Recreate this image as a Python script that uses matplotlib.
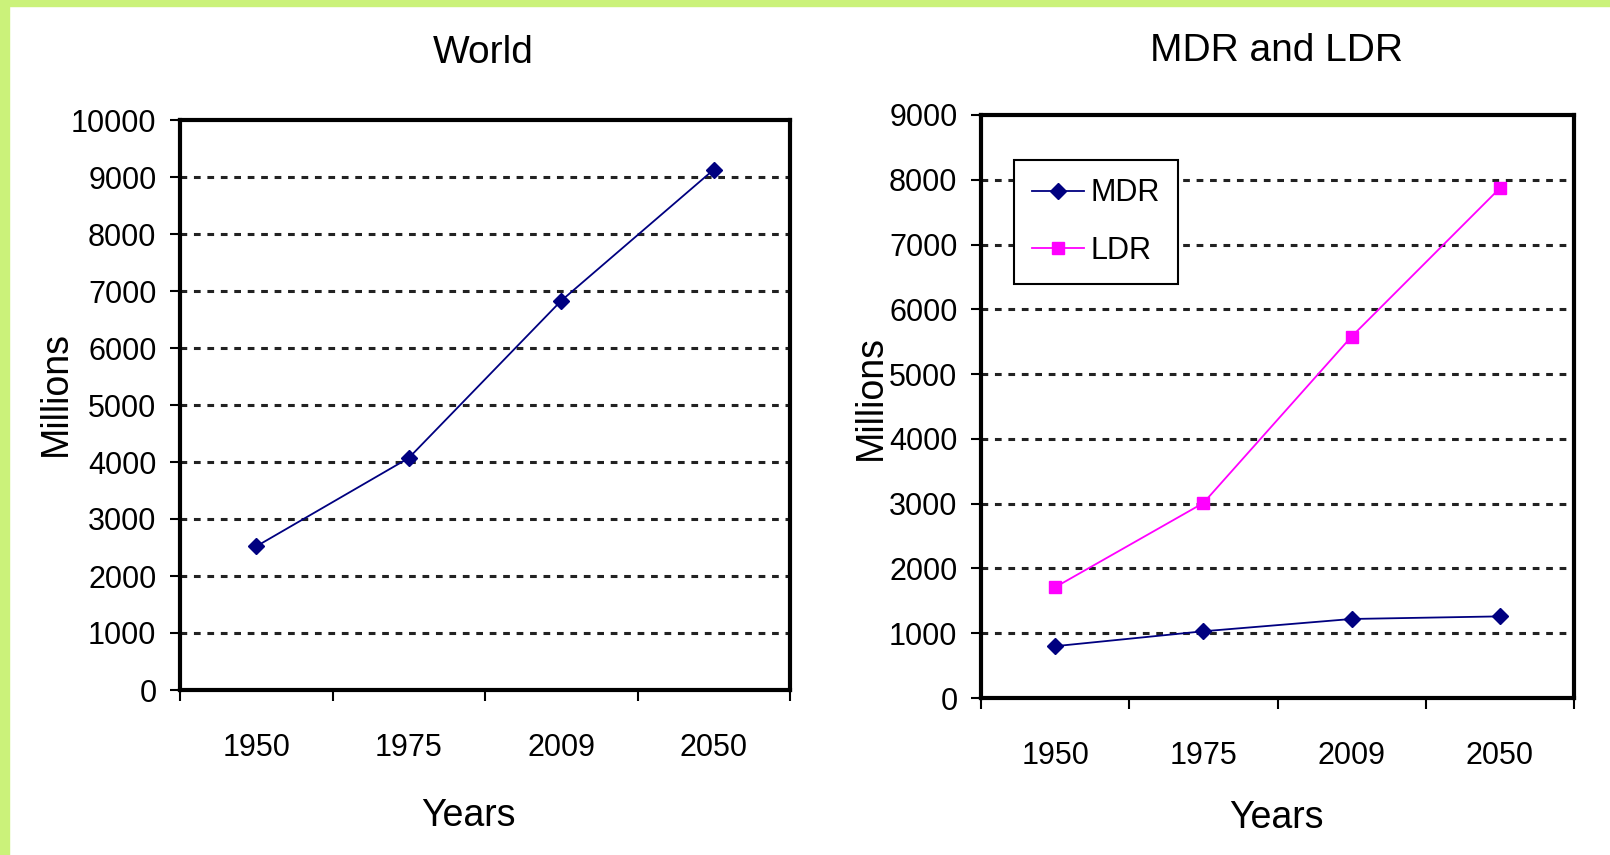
import matplotlib.pyplot as plt
from matplotlib.patches import Rectangle
from matplotlib import font_manager

years = ["1950", "1975", "2009", "2050"]
world = [2520, 4070, 6830, 9130]
mdr = [800, 1030, 1220, 1260]
ldr = [1710, 3010, 5580, 7870]

names = {f.name for f in font_manager.fontManager.ttflist}
fam = [f for f in ["Liberation Sans Narrow", "Liberation Sans", "DejaVu Sans"] if f in names]
plt.rcParams['font.family'] = fam

W, H = 1610, 855
fig = plt.figure(figsize=(W / 100, H / 100), dpi=100)
fig.patch.set_facecolor('white')

# green frame on the left and top
green = '#cbf27a'
fig.patches.append(Rectangle((0, 0), 9 / W, 1, transform=fig.transFigure, color=green, zorder=0))
fig.patches.append(Rectangle((0, 1 - 6 / H), 1, 6 / H, transform=fig.transFigure, color=green, zorder=0))


def px_axes(x0, y0, x1, y1):
    return fig.add_axes([x0 / W, 1 - y1 / H, (x1 - x0) / W, (y1 - y0) / H])


def style(ax, ymax, ystep):
    x = [i + 0.5 for i in range(len(years))]
    ax.set_xlim(0, len(years))
    ax.set_ylim(0, ymax)
    ax.set_yticks(range(0, ymax + 1, ystep))
    ax.set_xticks(range(len(years) + 1))
    ax.set_xticklabels([])
    ax.set_xticks(x, minor=True)
    ax.set_xticklabels(years, minor=True)
    ax.tick_params(axis='x', which='minor', length=0, pad=31, labelsize=22)
    ax.tick_params(axis='x', which='major', length=8, width=1.5, direction='out')
    ax.tick_params(axis='y', length=7, width=1.5, direction='out', pad=10, labelsize=22)
    for s in ax.spines.values():
        s.set_linewidth(3)
    for v in range(ystep, ymax, ystep):
        ax.axhline(v, color='#222222', lw=2.2, ls=(0, (2.2, 2.2)), zorder=1)
    return x


ax1 = px_axes(180, 120, 790, 690)
x = style(ax1, 10000, 1000)
ax1.plot(x, world, color='#000080', lw=1.3, marker='D', ms=8.5, zorder=3)

ax2 = px_axes(981, 115, 1574, 698)
x = style(ax2, 9000, 1000)
ax2.plot(x, mdr, color='#000080', lw=1.3, marker='D', ms=8.5, label='MDR', zorder=3)
ax2.plot(x, ldr, color='#ff00ff', lw=1.3, marker='s', ms=9, label='LDR', zorder=3)
leg = ax2.legend(loc='upper left', bbox_to_anchor=(33 / 593, 1 - 45 / 583), fontsize=22,
                 fancybox=False, framealpha=1, edgecolor='black', handlelength=1.7,
                 handletextpad=0.2, borderpad=0.6, labelspacing=0.9, borderaxespad=0)
leg.get_frame().set_linewidth(1.5)


def ftext(px, py, s, size=27, **kw):
    fig.text(px / W, 1 - py / H, s, ha='center', va='center', fontsize=size, **kw)


ftext(483, 53, "World", 28)
ftext(1276, 51, "MDR and LDR", 28)
ftext(468, 816, "Years")
ftext(1276, 818, "Years")
ftext(56, 393, "Millions", rotation=90)
ftext(871, 397, "Millions", rotation=90)

fig.savefig("out.png", dpi=100)
